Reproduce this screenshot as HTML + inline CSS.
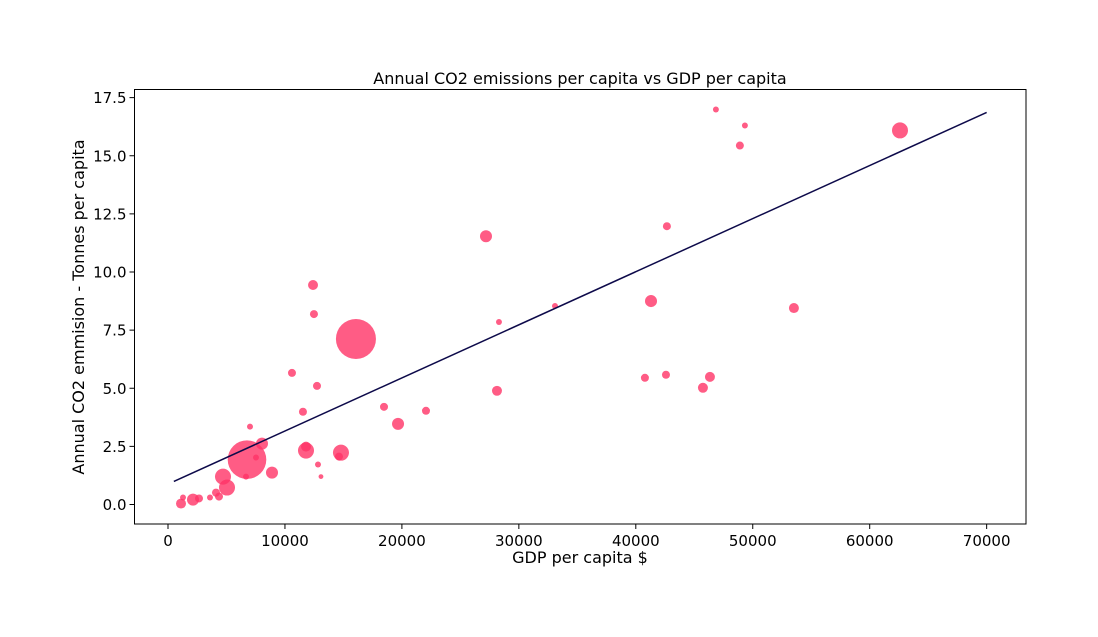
<!DOCTYPE html>
<html><head><meta charset="utf-8"><style>
body{margin:0;background:#fff}
svg{display:block;font-family:"DejaVu Sans","Liberation Sans",sans-serif}
</style></head><body>
<svg id="chart" width="1098" height="637"></svg>
<script>
const gdp=[1112,1283,2138,2650,3590,4360,4104,5045,4703,6755,6669,7524,8037,8892,7011,11540,11800,11800,12825,13080,14790,14620,18470,10600,12400,12480,12740,16070,19670,22060,27190,28130,28300,33090,40780,41300,42660,42580,45740,46340,46850,48900,49330,53520,62590];
const co2=[0.04,0.30,0.21,0.26,0.30,0.34,0.51,0.73,1.2,1.93,1.2,2.02,2.62,1.37,3.35,3.99,2.32,2.49,1.72,1.2,2.23,2.06,4.2,5.66,9.44,8.19,5.1,7.12,3.47,4.03,11.54,4.89,7.85,8.54,5.45,8.75,11.97,5.58,5.02,5.49,16.99,15.44,16.3,8.45,16.09];
const pop=[87,31,126,56,31,56,56,224,224,1300,31,31,126,126,31,56,224,87,31,20,224,56,56,56,87,56,56,1400,126,56,126,87,31,31,56,126,56,56,87,87,31,56,31,87,224];
const xTicks=[0,10000,20000,30000,40000,50000,60000,70000];
const yTicks=[0,2.5,5,7.5,10,12.5,15,17.5];
const fitSlope=0.0002284, fitIntercept=0.876, fitStart=500, fitEnd=70000;

const NS="http://www.w3.org/2000/svg";
const svg=document.getElementById('chart');
const L=134.5,R=1026,T=89.5,B=524;
const X=v=>168+v*0.011695;
const Y=v=>504.5-v*23.25;
function el(t,a,p){const e=document.createElementNS(NS,t);for(const k in a)e.setAttribute(k,a[k]);(p||svg).appendChild(e);return e;}
const title=el('text',{x:580,y:84,'text-anchor':'middle','font-size':16,fill:'#000'});title.textContent='Annual CO2 emissions per capita vs GDP per capita';


const g=el('g',{});


for(let i=0;i<gdp.length;i++){
 const c=el('circle',{cx:X(gdp[i]),cy:Y(co2[i]),r:Math.sqrt(pop[i])*0.535,fill:'#ff3366','fill-opacity':0.8},g);
 
 
}
const fit=el('line',{x1:X(fitStart),y1:Y(fitIntercept+fitSlope*fitStart),x2:X(fitEnd),y2:Y(fitIntercept+fitSlope*fitEnd),stroke:'#0d0a4a','stroke-width':1.5});


const frame=el('rect',{x:L,y:T,width:R-L,height:B-T,fill:'none',stroke:'#000','stroke-width':1});


xTicks.forEach(v=>{
 el('line',{x1:X(v),x2:X(v),y1:B,y2:B+5,stroke:'#000'});
 const t=el('text',{x:X(v),y:B+22,'text-anchor':'middle','font-size':15});t.textContent=v;
 
 
});
yTicks.forEach(v=>{
 el('line',{x1:L-5,x2:L,y1:Y(v),y2:Y(v),stroke:'#000'});
 const t=el('text',{x:L-8,y:Y(v)+5.5,'text-anchor':'end','font-size':15});t.textContent=v.toFixed(1);
 
 
});
const xl=el('text',{x:580,y:563,'text-anchor':'middle','font-size':16});xl.textContent='GDP per capita $';


const yl=el('text',{x:0,y:0,'text-anchor':'middle','font-size':16,transform:'translate(84,307) rotate(-90)'});yl.textContent='Annual CO2 emmision - Tonnes per capita';


</script>
</body></html>
